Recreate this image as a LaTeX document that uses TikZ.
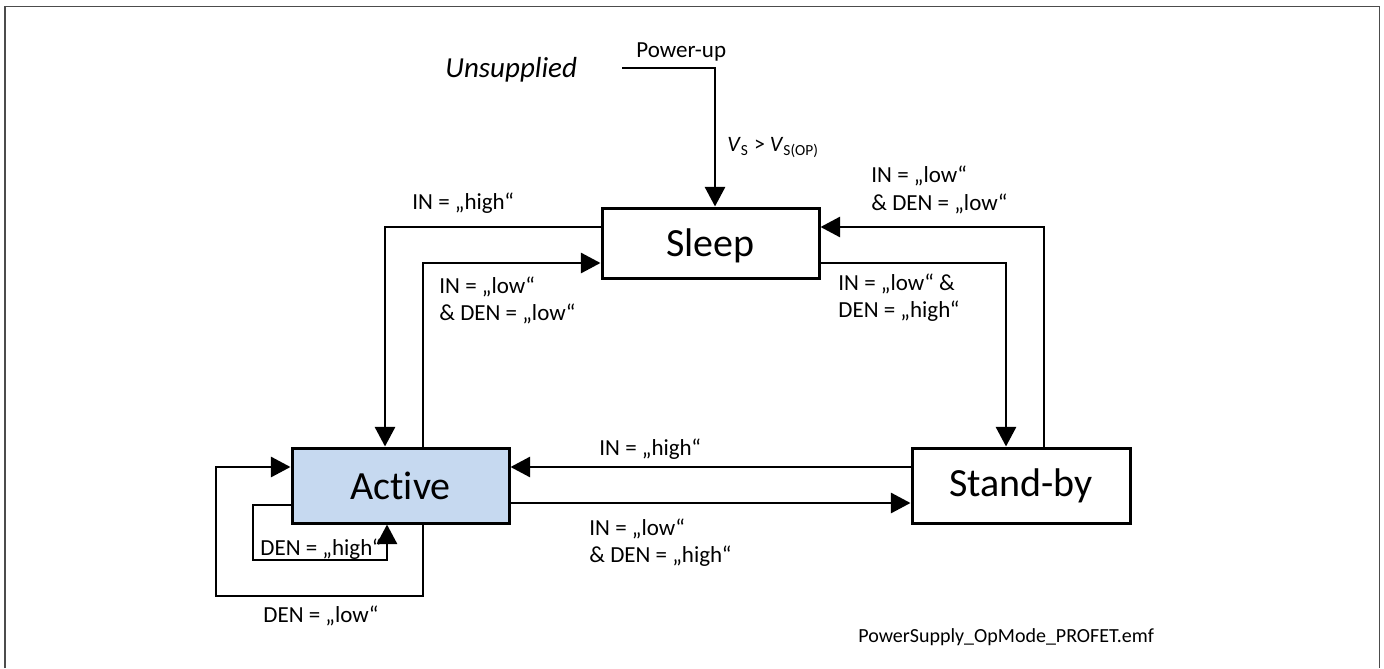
\documentclass[tikz,border=0pt]{standalone}
\usepackage{fontspec}
\setmainfont{Carlito}[Ligatures={TeX,NoCommon}]
\usetikzlibrary{arrows.meta}
\definecolor{activeblue}{HTML}{C6D9F0}
\begin{document}
\begin{tikzpicture}[x=0.5pt,y=-0.5pt,
  box/.style={draw,line width=1.5pt,inner sep=0pt,font=\fontsize{20}{24}\selectfont},
  arr/.style={line width=1.45pt,-{Triangle[length=9.8pt,width=10pt]}},
  lbl/.style={font=\fontsize{11.5}{13.5}\selectfont,inner sep=0pt,anchor=base west}]
\useasboundingbox (0,0) rectangle (1384,668);
\draw[line width=0.8pt,draw=black!70] (5,668) |- (1379.5,6.5) -- (1379.5,668);

% states
\node[box,minimum width=108.5pt,minimum height=35pt,text depth=0pt] (sleep) at (710.5,243) {Sleep};
\node[box,fill=activeblue,minimum width=108.5pt,minimum height=37.5pt] (active) at (400.5,485.5) {Active};
\node[box,minimum width=109pt,minimum height=37.5pt] (standby) at (1021,485.5) {Stand-by};

% helper coordinates
\coordinate (pu) at (622,68);
\coordinate (kpu) at (715,0);
\coordinate (k1) at (385,227);
\coordinate (k2) at (423,263);
\coordinate (k3) at (1006,263);
\coordinate (k4) at (1044,227);
\coordinate (k5) at (0,467);
\coordinate (k6) at (0,503);
\coordinate (k7) at (216,596);
\coordinate (k8) at (253,560);
\coordinate (k9) at (387,0);
\coordinate (k10) at (0,505);

% connectors
\draw[arr] (pu) -| (sleep.north -| kpu);
\draw[arr] (sleep.west |- k1) -| (active.north -| k1);
\draw[arr] (active.north -| k2) |- (sleep.west |- k2);
\draw[arr] (sleep.east |- k3) -| (standby.north -| k3);
\draw[arr] (standby.north -| k4) |- (sleep.east |- k4);
\draw[arr] (standby.west |- k5) -- (active.east |- k5);
\draw[arr] (active.east |- k6) -- (standby.west |- k6);
\draw[arr] (active.south -| k2) |- (k7) |- (active.west |- k5);
\draw[arr] (active.west |- k10) -| (k8) -| (active.south -| k9);

% labels
\node[lbl,font=\fontsize{14.5}{17}\selectfont\itshape] (unsup) at (445,78) {Unsupplied};
\node[lbl] (power) at (636,58) {Power-up};
\node[lbl,font=\fontsize{11}{13}\selectfont] (vs) at (727,152) {\textit{V}\textsubscript{S} > \textit{V}\textsubscript{S(OP)}};
\node[lbl] (t1) at (412,210) {IN = „high“};
\node[lbl] (t2a) at (439,293) {IN = „low“};
\node[lbl] (t2b) at (439,320) {\& DEN = „low“};
\node[lbl] (t3a) at (871,183) {IN = „low“};
\node[lbl] (t3b) at (871,211) {\& DEN = „low“};
\node[lbl] (t4a) at (838,290) {IN = „low“ \&};
\node[lbl] (t4b) at (838,317) {DEN = „high“};
\node[lbl] (t5) at (599,455) {IN = „high“};
\node[lbl] (t6a) at (589,535) {IN = „low“};
\node[lbl] (t6b) at (589,562) {\& DEN = „high“};
\node[lbl] (t7) at (260,555) {DEN = „high“};
\node[lbl] (t8) at (263,622) {DEN = „low“};
\node[lbl,font=\fontsize{10}{12}\selectfont] (foot) at (858,642) {PowerSupply\_OpMode\_PROFET.emf};
\end{tikzpicture}
\end{document}
